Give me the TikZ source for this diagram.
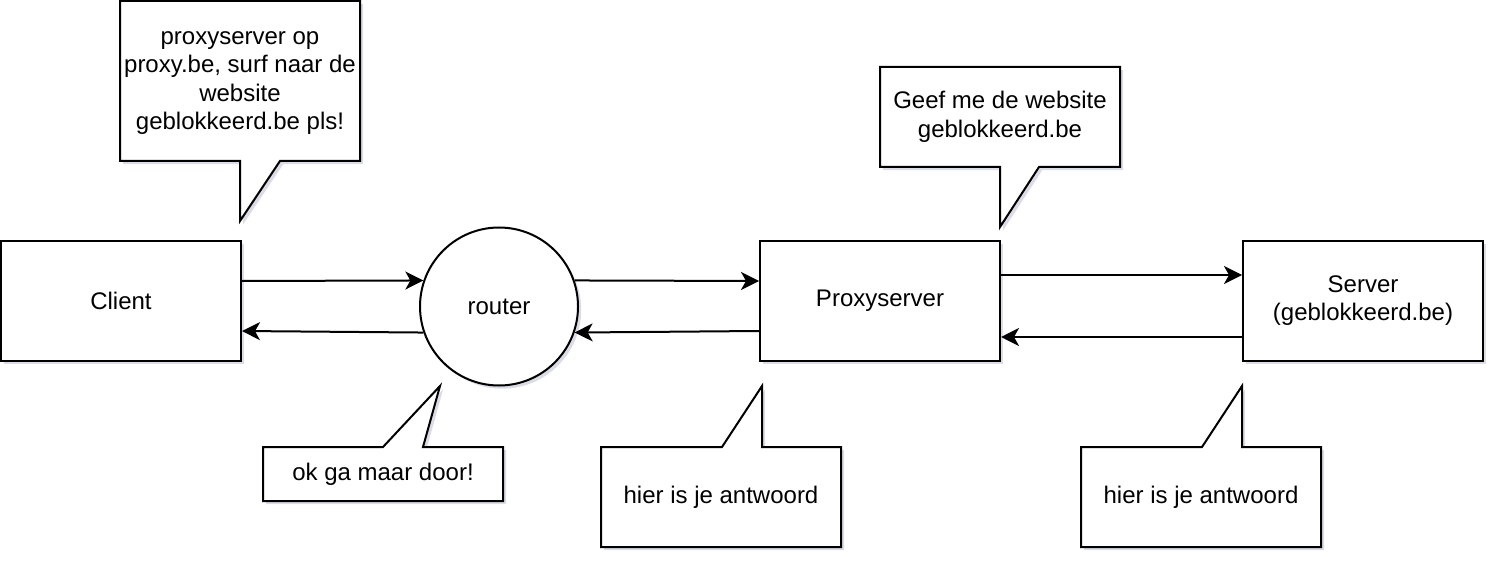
\documentclass[tikz,border=0pt]{standalone}
\usepackage{fontspec}
\setmainfont{Liberation Sans}
\usetikzlibrary{arrows.meta,shadows}
\definecolor{shadowc}{RGB}{90,95,140}
\tikzset{
  shd/.style={drop shadow={shadow xshift=1.6pt,shadow yshift=-1.6pt,opacity=0.22,fill=shadowc}},
  boxnode/.style={draw,line width=1pt,fill=white,shd,minimum width=120pt,minimum height=60pt,inner sep=0pt,align=center},
  circnode/.style={draw,line width=1pt,fill=white,shd,circle,minimum size=79pt,inner sep=0pt},
  callout/.style={draw,line width=1pt,fill=white,shd,line join=miter},
  ctext/.style={align=center,inner sep=0pt},
  arr/.style={line width=1pt,-{Stealth[length=9pt,width=9pt,inset=2.5pt]}}
}
\begin{document}
\begin{tikzpicture}[x=0.5pt,y=-0.5pt,font=\fontsize{12}{14.25}\selectfont]
\useasboundingbox (0,0) rectangle (1508,572);
% main nodes
\node[boxnode] (client) at (121,300.5) {Client};
\node[circnode] (router) at (499,306.5) {router};
\node[boxnode] (proxy) at (880,300.5) {Proxyserver};
\node[boxnode] (server) at (1363,300.5) {Server\\(geblokkeerd.be)};
% callout shapes
\path[callout] (120,1) -- (360,1) -- (360,161) -- (280,161) -- (240,221) -- (240,161) -- (120,161) -- cycle;
\path[callout] (880,67) -- (1120,67) -- (1120,167) -- (1039,167) -- (1000,227) -- (1000,167) -- (880,167) -- cycle;
\path[callout] (263,447) -- (383,447) -- (440,386) -- (423,447) -- (503,447) -- (503,501) -- (263,501) -- cycle;
\path[callout] (601,447) -- (722,447) -- (762,386) -- (762,447) -- (841,447) -- (841,547) -- (601,547) -- cycle;
\path[callout] (1081,447) -- (1202,447) -- (1242,386) -- (1242,447) -- (1321,447) -- (1321,547) -- (1081,547) -- cycle;
% callout texts
\node[ctext] (c1) at (240,83) {proxyserver op\\proxy.be, surf naar de\\website\\geblokkeerd.be pls!};
\node[ctext] (c2) at (1000,117) {Geef me de website\\geblokkeerd.be};
\node[ctext] (c3) at (383,474) {ok ga maar door!};
\node[ctext] (c4) at (721,497) {hier is je antwoord};
\node[ctext] (c5) at (1201,497) {hier is je antwoord};
% connectors
\draw[arr] (client.east |- 0,281) -- (router.161);
\draw[arr] (router.199) -- (client.east |- 0,331);
\draw[arr] (router.19) -- (proxy.west |- 0,281);
\draw[arr] (proxy.west |- 0,331) -- (router.341);
\draw[arr] (proxy.east |- 0,275) -- (server.west |- 0,275);
\draw[arr] (server.west |- 0,337) -- (proxy.east |- 0,337);
\end{tikzpicture}
\end{document}
